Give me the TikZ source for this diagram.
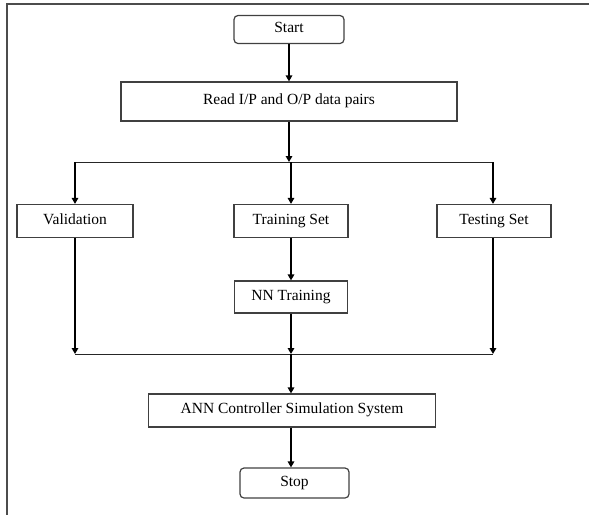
\documentclass[tikz,border=0pt]{standalone}
\usepackage{fontspec}
\setmainfont{Liberation Serif}
\usetikzlibrary{arrows.meta}
\begin{document}
\begin{tikzpicture}[x=1pt,y=-1pt]
\tikzstyle{caixa}=[draw=black!75, line width=1.2pt, minimum height=33pt, inner sep=0, text height=10.5pt, text depth=4.5pt, font=\fontsize{15.5}{17}\selectfont]
\tikzstyle{terminal}=[caixa, rounded corners=4pt]
\tikzstyle{seta}=[-{Triangle[length=6pt,width=6.5pt]}, line width=1.8pt]
\tikzstyle{linha}=[line width=1pt, draw=black!85]
\useasboundingbox (0,0) rectangle (589,515);
\draw[black!70, line width=1.5pt](589,4)--(7,4)--(7,515);
\node[terminal, minimum width=110pt, minimum height=28pt](start) at(289,29.5){Start};
\node[caixa, minimum width=336pt, minimum height=39pt](read) at(289,101.5){Read I/P and O/P data pairs};
\node[caixa, minimum width=116pt](valid) at(75,221){Validation};
\node[caixa, minimum width=114pt](train) at(291,221){Training Set};
\node[caixa, minimum width=114pt](test) at(494,221){Testing Set};
\node[caixa, minimum width=113pt, minimum height=32pt](nn) at(291,297){NN Training};
\node[caixa, minimum width=287pt](ann) at(292,410.5){ANN Controller Simulation System};
\node[terminal, minimum width=109pt, minimum height=30pt](stop) at(294.5,483){Stop};
\coordinate(split) at(289,162);
\coordinate(vsplit) at(75,162);
\coordinate(tsplit) at(493,162);
\coordinate(join) at(291,354);
\coordinate(vjoin) at(75,354);
\coordinate(tjoin) at(493,354);
\draw[seta](start)--(read);
\draw[seta](read)--(split);
\draw[linha](vsplit)--(tsplit);
\draw[seta](vsplit)--(valid);
\draw[seta](split -| train)--(train);
\draw[seta](tsplit)--(tsplit |- test.north);
\draw[seta](train)--(nn);
\draw[seta](valid)--(vjoin);
\draw[seta](tsplit |- test.south)--(tjoin);
\draw[seta](nn)--(join);
\draw[linha](vjoin)--(tjoin);
\draw[seta](join)--(join |- ann.north);
\draw[seta](join |- ann.south)--(join |- stop.north);
\end{tikzpicture}
\end{document}
